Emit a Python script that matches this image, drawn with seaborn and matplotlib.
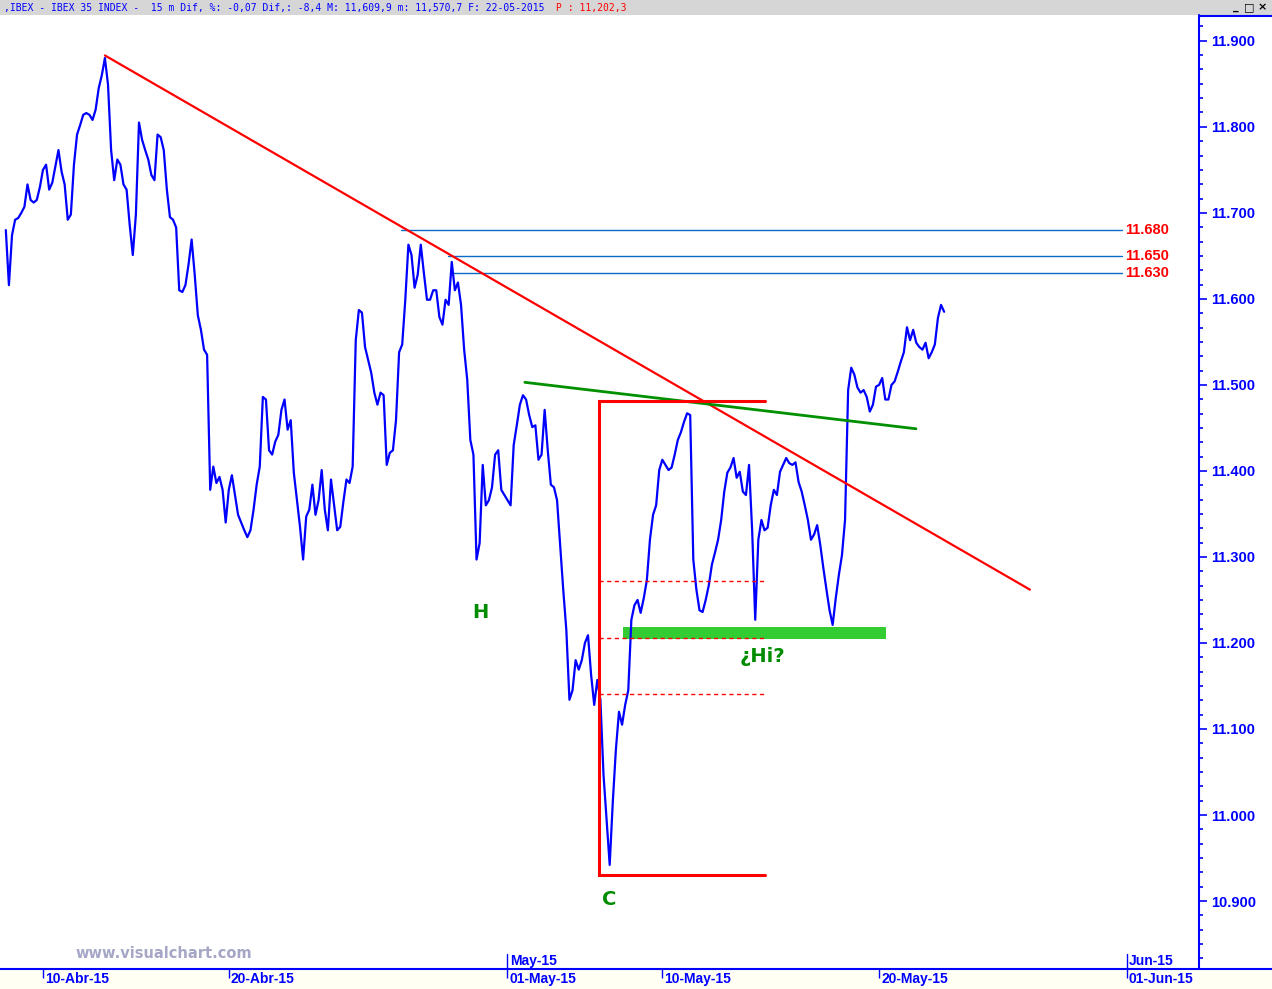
import numpy as np
import pandas as pd
import matplotlib
matplotlib.use("Agg")
import matplotlib.pyplot as plt
import matplotlib.transforms as mtransforms
from matplotlib.ticker import MultipleLocator, FuncFormatter, FixedLocator
from matplotlib.patches import Rectangle
from matplotlib.lines import Line2D
import seaborn as sns

# ---------------- data ----------------
# time axis: trading sessions since 10-Apr-2015 open, sampled every 0.1 session
session_start = -1.2
session_step = 0.1
close_prices = [
    11680, 11616, 11674, 11692, 11694, 11700, 11707, 11733, 11715, 11712,
    11715, 11730, 11750, 11756, 11727, 11735, 11754, 11773, 11748, 11733,
    11692, 11698, 11756, 11791, 11802, 11814, 11816, 11814, 11808, 11820,
    11845, 11860, 11880, 11849, 11773, 11738, 11762, 11756, 11733, 11727,
    11686, 11651, 11698, 11805, 11785, 11773, 11762, 11744, 11738, 11791,
    11788, 11773, 11727, 11695, 11692, 11683, 11610, 11608, 11616, 11640,
    11669, 11628, 11581, 11564, 11541, 11535, 11378, 11405, 11386, 11393,
    11378, 11340, 11378, 11395, 11372, 11349, 11340, 11331, 11323, 11331,
    11355, 11384, 11405, 11486, 11483, 11424, 11419, 11434, 11442, 11471,
    11483, 11448, 11459, 11398, 11366, 11335, 11297, 11347, 11355, 11384,
    11349, 11366, 11401, 11355, 11331, 11390, 11360, 11331, 11335, 11364,
    11390, 11386, 11405, 11552, 11587, 11584, 11544, 11529, 11514, 11491,
    11477, 11491, 11488, 11407, 11421, 11424, 11459, 11538, 11547, 11599,
    11663, 11651, 11613, 11628, 11663, 11630, 11599, 11599, 11610, 11610,
    11579, 11570, 11599, 11593, 11643, 11610, 11619, 11593, 11541, 11506,
    11436, 11419, 11297, 11316, 11407, 11360, 11366, 11381, 11419, 11424,
    11378, 11372, 11366, 11360, 11430, 11453, 11477, 11488, 11483, 11465,
    11451, 11453, 11413, 11419, 11471, 11424, 11384, 11381, 11366, 11314,
    11262, 11215, 11134, 11145, 11180, 11169, 11180, 11200, 11209, 11163,
    11128, 11157, 11134, 11047, 10994, 10942, 11015, 11076, 11120, 11105,
    11128, 11145, 11227, 11244, 11250, 11235, 11252, 11273, 11320, 11349,
    11360, 11401, 11413, 11407, 11401, 11404, 11419, 11436, 11445, 11457,
    11467, 11465, 11297, 11262, 11238, 11236, 11250, 11267, 11291, 11305,
    11320, 11343, 11376, 11398, 11404, 11415, 11392, 11399, 11376, 11372,
    11407, 11331, 11227, 11320, 11343, 11331, 11334, 11360, 11378, 11372,
    11399, 11407, 11415, 11409, 11407, 11410, 11387, 11376, 11360, 11343,
    11320, 11326, 11337, 11314, 11287, 11262, 11238, 11221, 11252, 11279,
    11302, 11343, 11494, 11520, 11512, 11497, 11491, 11494, 11486, 11469,
    11477, 11498, 11500, 11508, 11483, 11483, 11500, 11504, 11515, 11527,
    11538, 11567, 11552, 11564, 11549, 11544, 11541, 11549, 11531, 11538,
    11547, 11578, 11593, 11585,
]

date_ticks = [0, 6, 15, 20, 27, 35]
date_labels = ["10-Abr-15", "20-Abr-15", "01-May-15", "10-May-15", "20-May-15", "01-Jun-15"]
month_ticks = [15, 35]
month_labels = ["May-15", "Jun-15"]
price_ticks = [10900, 11000, 11100, 11200, 11300, 11400, 11500, 11600, 11700, 11800, 11900]

red_trend_x = [2.0, 31.87]
red_trend_y = [11883, 11262]
green_trend_x = [15.56, 28.19]
green_trend_y = [11503, 11449]

level_values = [11680, 11650, 11630]
level_labels = ["11.680", "11.650", "11.630"]
level_starts = [11.56, 13.08, 13.24]
level_end = 34.84

box_x = [17.95, 23.31]
box_top = 11481
box_bottom = 10930
retrace_levels = [11272, 11206, 11141]

support_x = [18.73, 27.22]
support_band = [11205, 11218]

wave_labels = ["H", "C", "\u00bfHi?"]
wave_x = [14.14, 18.28, 23.22]
wave_y = [11236, 10902, 11184]

header_main = ",IBEX - IBEX 35 INDEX -  15 m Dif, %: -0,07 Dif,: -8,4 M: 11,609,9 m: 11,570,7 F: 22-05-2015"
header_price = "P : 11,202,3"
watermark = "www.visualchart.com"

# ---------------- styling ----------------
sns.set_style("white")
plt.rcParams["font.family"] = ["Liberation Sans Narrow", "Liberation Sans", "DejaVu Sans"]

BLUE = "#0000ff"
RED = "#ff0000"
GREEN = "#008c00"
W, H = 1272, 989

fig = plt.figure(figsize=(W / 100, H / 100), dpi=100)
fig.patch.set_facecolor("white")

# header band and bottom band
fig.patches.append(Rectangle((0, 1 - 15 / H), 1, 15 / H, transform=fig.transFigure,
                             facecolor="#d6d6d6", edgecolor="none", zorder=-10))
fig.patches.append(Rectangle((0, 0), 1, 20 / H, transform=fig.transFigure,
                             facecolor="#fffff4", edgecolor="none", zorder=-10))

ax = fig.add_axes([0, 20 / H, 1199 / W, (969 - 15) / H])
ax.set_zorder(1)
ax.set_facecolor("white")

df = pd.DataFrame({
    "session": session_start + session_step * np.arange(len(close_prices)),
    "close": close_prices,
})
sns.lineplot(data=df, x="session", y="close", color=BLUE, linewidth=1.6, ax=ax, zorder=3)

ax.set_xlim(-1.388, 37.33)
ax.set_ylim(10821, 11930)
ax.set_xlabel("")
ax.set_ylabel("")
for s in ax.spines.values():
    s.set_visible(False)

# horizontal resistance levels
for val, lab, x0 in zip(level_values, level_labels, level_starts):
    ax.plot([x0, level_end], [val, val], color="#0a6cc8", linewidth=1.0, zorder=2)
    ax.text(level_end + 0.1, val, lab, color=RED, fontsize=10.5, fontweight="bold",
            ha="left", va="center")

# red down trendline
ax.plot(red_trend_x, red_trend_y, color=RED, linewidth=1.6, zorder=4)
# green neckline
ax.plot(green_trend_x, green_trend_y, color="#009000", linewidth=2.0, zorder=4)

# red box
ax.plot([box_x[1], box_x[0], box_x[0], box_x[1]], [box_top, box_top, box_bottom, box_bottom],
        color=RED, linewidth=2.2, zorder=4, solid_joinstyle="miter")
for lvl in retrace_levels:
    ax.plot(box_x, [lvl, lvl], color=RED, linewidth=1.0, linestyle=(0, (3, 2.5)), zorder=4)

# green support band
ax.add_patch(Rectangle((support_x[0], support_band[0]), support_x[1] - support_x[0],
                       support_band[1] - support_band[0], facecolor="#33cc33",
                       edgecolor="none", zorder=2))

# wave labels
for lab, x, y in zip(wave_labels, wave_x, wave_y):
    ax.text(x, y, lab, color=GREEN, fontsize=14, fontweight="bold",
            family=["DejaVu Sans"], ha="center", va="center", zorder=5)

# y axis on the right
ax.yaxis.tick_right()
ax.yaxis.set_major_locator(FixedLocator(price_ticks))
ax.yaxis.set_minor_locator(MultipleLocator(100 / 6))
ax.yaxis.set_major_formatter(FuncFormatter(lambda v, _: f"{v / 1000:.3f}"))
ax.tick_params(axis="y", which="major", direction="out", length=5.5, width=1.2,
               color=BLUE, labelcolor=BLUE, labelsize=10.5, pad=3.5, right=True, left=False,
               labelright=True, labelleft=False)
ax.tick_params(axis="y", which="minor", direction="out", length=3, width=1.2,
               color=BLUE, right=True, left=False)
for lab in ax.get_yticklabels():
    lab.set_fontweight("bold")

# x axis: dates
ax.set_xticks(date_ticks)
ax.set_xticklabels(date_labels)
ax.tick_params(axis="x", which="major", direction="out", length=6.5, width=1.0, color=BLUE,
               labelcolor=BLUE, labelsize=10, pad=-4.0, bottom=True, labelbottom=True,
               top=False, labeltop=False)
ax.tick_params(axis="x", which="minor", bottom=False, top=False)
offset = mtransforms.ScaledTranslation(2 / 100, 0, fig.dpi_scale_trans)
for lab in ax.get_xticklabels():
    lab.set_horizontalalignment("left")
    lab.set_fontweight("bold")
    lab.set_transform(lab.get_transform() + offset)

blend = mtransforms.blended_transform_factory(ax.transData, ax.transAxes)
for mt, ml in zip(month_ticks, month_labels):
    ax.plot([mt, mt], [0, 0.016], color=BLUE, linewidth=1.0, transform=blend, clip_on=False)
    ax.text(mt + 0.07, 0.0085, ml, color=BLUE, fontsize=10, fontweight="bold",
            ha="left", va="center", transform=blend)

# axis frame lines
fig.lines.append(Line2D([1199 / W, 1199 / W], [20 / H, 1 - 15 / H], transform=fig.transFigure,
                        color=BLUE, linewidth=1.5))
fig.lines.append(Line2D([1199 / W, 1], [1 - 15.5 / H, 1 - 15.5 / H], transform=fig.transFigure,
                        color=BLUE, linewidth=1.5))
fig.lines.append(Line2D([0, 1], [20 / H, 20 / H], transform=fig.transFigure,
                        color=BLUE, linewidth=1.5))

# header texts
mono = ["DejaVu Sans Mono"]
fig.text(4 / W, 1 - 7.5 / H, header_main, color=BLUE, fontsize=7.0, family=mono,
         ha="left", va="center")
fig.text(556 / W, 1 - 7.5 / H, header_price, color=RED, fontsize=7.0, family=mono,
         ha="left", va="center")
for bx, glyph in zip([1236, 1249, 1262], ["_", "\u25a1", "\u00d7"]):
    fig.text(bx / W, 1 - 7.5 / H, glyph, color="black", fontsize=8, family=["DejaVu Sans"],
             ha="center", va="center", fontweight="bold")

fig.text(75 / W, 1 - 953 / H, watermark, color="#a6a6c6", fontsize=10.5, fontweight="bold",
         family=["DejaVu Sans"], ha="left", va="center")

fig.savefig("out.png", dpi=100)
